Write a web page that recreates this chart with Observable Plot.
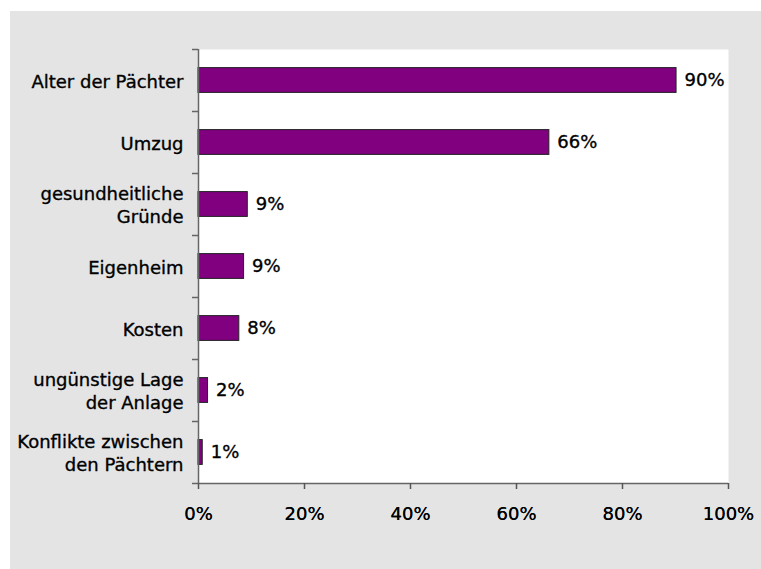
<!DOCTYPE html>
<html>
<head>
<meta charset="utf-8">
<script src="https://cdn.jsdelivr.net/npm/d3@7"></script>
<script src="https://cdn.jsdelivr.net/npm/@observablehq/plot@0.6"></script>
<style>
  html, body { margin: 0; padding: 0; background: #ffffff; overflow: hidden; }
  #wrap { position: relative; width: 761px; height: 569px; overflow: hidden; }
  #bg { position: absolute; left: 10px; top: 11px; right: 0; bottom: 0; background: #e4e4e4; }
  #chart { position: absolute; left: 0; top: 0; }
</style>
</head>
<body>
<div id="wrap"><div id="bg"></div><div id="chart"></div></div>
<script>
const categories = [
  "Alter der Pächter",
  "Umzug",
  "gesundheitliche\nGründe",
  "Eigenheim",
  "Kosten",
  "ungünstige Lage\nder Anlage",
  "Konflikte zwischen\nden Pächtern"
];
const values = [90.2, 66.2, 9.3, 8.6, 7.7, 1.8, 0.8];
const valueLabels = ["90%", "66%", "9%", "9%", "8%", "2%", "1%"];
const xTicks = [0, 20, 40, 60, 80, 100];

const data = categories.map((c, i) => ({cat: c, i, value: values[i], label: valueLabels[i]}));
const boundaries = d3.range(categories.length + 1).map(k => k - 0.5);
const half = 0.2; // bar half-thickness in category units

const font = "'DejaVu Sans', 'Liberation Sans', Arial, sans-serif";
const fs = 18;
const textStroke = {stroke: "#000", strokeWidth: 0.35};

const plot = Plot.plot({
  width: 761,
  height: 569,
  marginLeft: 198,
  marginRight: 33,
  marginTop: 49,
  marginBottom: 86,
  style: {background: "transparent", fontFamily: font, fontSize: fs + "px", color: "#000"},
  x: {domain: [0, 100]},
  y: {domain: [categories.length - 0.5, -0.5], axis: null},
  marks: [
    Plot.frame({fill: "white", stroke: null}),
    Plot.rectX(data, {x1: 0, x2: "value", y1: d => d.i - half, y2: d => d.i + half, fill: "#800080", stroke: "#222", strokeWidth: 1}),
    Plot.text(data, {x: "value", y: "i", text: "label", textAnchor: "start", dx: 8, fill: "#000", fontSize: fs, ...textStroke}),
    Plot.axisY({ticks: boundaries, tickSize: 6, tickFormat: () => "", stroke: "#666", strokeWidth: 1.5, label: null}),
    Plot.text(data, {x: 0, y: "i", text: "cat", textAnchor: "end", dx: -15, lineHeight: 1.25, fill: "#000", fontSize: fs, ...textStroke}),
    Plot.ruleX([0], {stroke: "#666", strokeWidth: 1.5}),
    Plot.ruleY([categories.length - 0.5], {stroke: "#666", strokeWidth: 1.5}),
    Plot.axisX({ticks: xTicks, tickSize: 6, tickPadding: 18, tickFormat: d => d + "%", stroke: "#555", strokeWidth: 1.5, label: null}),
    Plot.axisX({ticks: xTicks, tickSize: 0, tickPadding: 24, tickFormat: d => d + "%", fill: "#000", fontSize: fs, label: null, ...textStroke})
  ]
});
document.getElementById("chart").appendChild(plot);
</script>
</body>
</html>
